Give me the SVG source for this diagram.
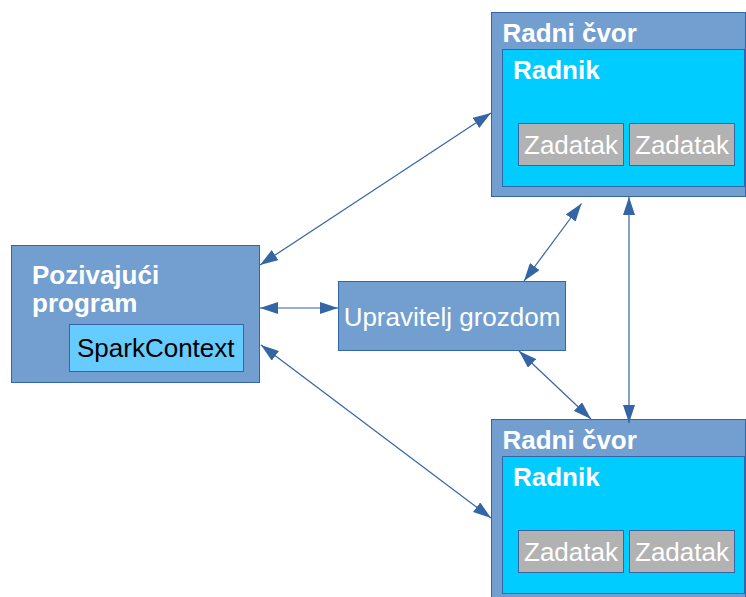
<svg xmlns="http://www.w3.org/2000/svg" width="746" height="597" viewBox="0 0 746 597">
<defs>
<style>
.node{fill:#729fcf;stroke:#3465a4;stroke-width:1}
.worker{fill:#00ccff;stroke:#3465a4;stroke-width:1}
.task{fill:#b2b2b2;stroke:#3465a4;stroke-width:1}
.sc{fill:#66ccff;stroke:#3465a4;stroke-width:1}
.t{font-family:"Liberation Sans",Arial,sans-serif;font-size:26px;fill:#ffffff}
.b{font-weight:bold}
.dark{fill:#000000}
.conn{stroke:#3465a4;stroke-width:1.2;fill:none;marker-start:url(#ah);marker-end:url(#ah)}
</style>
<marker id="ah" markerUnits="userSpaceOnUse" markerWidth="18" markerHeight="12" refX="18" refY="6" orient="auto-start-reverse" viewBox="0 0 18 12">
<path d="M0,0 L18,6 L0,12 z" fill="#3465a4"/>
</marker>
</defs>
<rect width="746" height="597" fill="#ffffff"/>
<g id="driver">
<rect class="node" x="11.5" y="245.5" width="248" height="137"/>
<text class="t b" x="32" y="284">Pozivajući</text>
<text class="t b" x="32" y="312">program</text>
<g id="sparkcontext">
<rect class="sc" x="69.5" y="324.5" width="174" height="47"/>
<text class="t dark" x="77" y="357">SparkContext</text>
</g>
</g>
<g id="manager">
<rect class="node" x="338.5" y="281.5" width="227" height="69"/>
<text class="t" x="452" y="326" text-anchor="middle">Upravitelj grozdom</text>
</g>
<g id="worker1">
<rect class="node" x="491.5" y="12.5" width="254" height="184"/>
<text class="t b" x="502.5" y="42">Radni čvor</text>
<rect class="worker" x="502.5" y="49.5" width="242" height="137"/>
<text class="t b" x="513" y="79">Radnik</text>
<rect class="task" x="518.5" y="123.5" width="105" height="42"/>
<text class="t" x="571" y="153.5" text-anchor="middle">Zadatak</text>
<rect class="task" x="629.5" y="123.5" width="105" height="42"/>
<text class="t" x="682" y="153.5" text-anchor="middle">Zadatak</text>
</g>
<g id="worker2">
<rect class="node" x="491.5" y="419.5" width="254" height="184"/>
<text class="t b" x="502.5" y="449">Radni čvor</text>
<rect class="worker" x="502.5" y="456.5" width="242" height="137"/>
<text class="t b" x="513" y="486">Radnik</text>
<rect class="task" x="518.5" y="530.5" width="105" height="42"/>
<text class="t" x="571" y="560.5" text-anchor="middle">Zadatak</text>
<rect class="task" x="629.5" y="530.5" width="105" height="42"/>
<text class="t" x="682" y="560.5" text-anchor="middle">Zadatak</text>
</g>
<g id="connectors">
<line class="conn" x1="260" y1="265" x2="491" y2="113"/>
<line class="conn" x1="260" y1="308" x2="338" y2="308"/>
<line class="conn" x1="261" y1="345" x2="491" y2="518"/>
<line class="conn" x1="524" y1="281" x2="581.5" y2="203.5"/>
<line class="conn" x1="519" y1="351" x2="591" y2="419"/>
<line class="conn" x1="629" y1="197" x2="629" y2="423"/>
</g>
</svg>
